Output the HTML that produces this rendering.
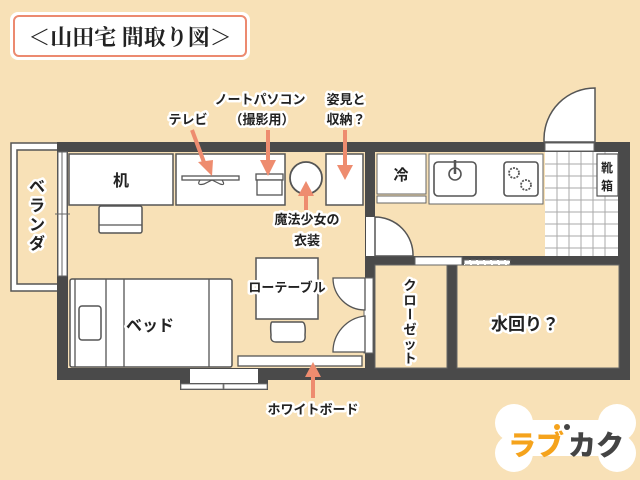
<!DOCTYPE html>
<html><head><meta charset="utf-8"><style>
html,body{margin:0;padding:0;background:#f8e1b7;}
svg{display:block;}
text{font-family:"Liberation Sans","Noto Sans CJK JP",sans-serif;font-weight:bold;fill:#222;}
.lb{paint-order:stroke;stroke:#fff;stroke-width:5px;stroke-linejoin:round;}
</style></head><body>
<svg width="640" height="480" viewBox="0 0 640 480" xmlns="http://www.w3.org/2000/svg">
<rect width="640" height="480" fill="#f8e1b7"/>
<!-- title -->
<rect x="10" y="12" width="240" height="48" rx="8" fill="#fff"/>
<rect x="14" y="16" width="232" height="40" rx="5" fill="#fff" stroke="#ec8a70" stroke-width="2"/>
<text x="130" y="45" font-size="22" text-anchor="middle" style="font-family:'Noto Serif CJK SC','Liberation Serif',serif;font-weight:bold">＜山田宅 間取り図＞</text>

<!-- balcony -->
<rect x="11" y="143" width="48" height="148" fill="#fff" stroke="#555" stroke-width="1.5"/>
<rect x="17" y="150" width="42" height="134" fill="#f8e1b7" stroke="#555" stroke-width="1.5"/>

<!-- floors -->
<rect x="57" y="142" width="573" height="238" fill="#4a4a4a"/>
<rect x="68" y="152" width="297" height="216" fill="#f8e1b7"/>
<rect x="375" y="152" width="170" height="104" fill="#f8e1b7"/>
<rect x="375" y="265" width="72" height="103" fill="#f8e1b7" stroke="#666" stroke-width="1"/>
<rect x="457" y="265" width="162" height="103" fill="#f8e1b7" stroke="#666" stroke-width="1"/>
<!-- genkan tile -->
<rect x="545" y="152" width="73" height="104" fill="#fff"/>
<g stroke="#aaa" stroke-width="1">
<path d="M557 152V256M569 152V256M581 152V256M593 152V256M605 152V256M545 164H618M545 176H618M545 188H618M545 200H618M545 212H618M545 224H618M545 236H618M545 248H618"/>
</g>
<rect x="597" y="154" width="21" height="42" fill="#fff" stroke="#555" stroke-width="1.2"/>
<text x="607" y="172" font-size="12" text-anchor="middle">靴</text>
<text x="607" y="190" font-size="12" text-anchor="middle">箱</text>
<!-- entrance door -->
<rect x="544" y="142" width="51" height="10" fill="#4a4a4a"/>
<rect x="545" y="143" width="49" height="8" fill="#fff" stroke="#666" stroke-width="1"/>
<path d="M595 142 V88 A51 51 0 0 0 544 139 V142 Z" fill="#fff" stroke="#555" stroke-width="1.5"/>

<!-- left window -->
<rect x="58" y="152" width="9" height="124" fill="#fff" stroke="#666" stroke-width="1"/>
<path d="M62 152V276M55 214H70" stroke="#666" stroke-width="1"/>

<!-- kitchen -->
<rect x="377" y="154" width="49" height="40" fill="#fff" stroke="#666" stroke-width="1"/>
<rect x="377" y="196" width="49" height="7" fill="#fff" stroke="#666" stroke-width="1"/>
<text x="401" y="180" font-size="15" text-anchor="middle">冷</text>
<rect x="429" y="154" width="114" height="50" fill="#fff" stroke="#666" stroke-width="1"/>
<rect x="434" y="162" width="42" height="34" rx="4" fill="#fff" stroke="#555" stroke-width="1.6"/>
<circle cx="455" cy="174" r="6" fill="none" stroke="#555" stroke-width="1.6"/>
<path d="M455 160V174" stroke="#555" stroke-width="2.5"/>
<rect x="504" y="162" width="34" height="34" rx="3" fill="#fff" stroke="#555" stroke-width="1.6"/>
<circle cx="514" cy="173" r="5" fill="none" stroke="#555" stroke-width="1.8" stroke-dasharray="2,1.2"/>
<circle cx="526" cy="185" r="5" fill="none" stroke="#555" stroke-width="1.8" stroke-dasharray="2,1.2"/>
<!-- kitchen door -->
<rect x="366" y="217" width="9" height="39" fill="#fff"/>
<path d="M375 217 A38 38 0 0 1 413 256 H375 Z" fill="#fff" stroke="#555" stroke-width="1.5"/>
<!-- horizontal wall openings -->
<rect x="415" y="257" width="47" height="8" fill="#fff" stroke="#666" stroke-width="1"/>
<rect x="464" y="260" width="46" height="5" fill="#fff" stroke="#666" stroke-width="1" stroke-dasharray="5,2"/>
<text x="525" y="330" font-size="17" text-anchor="middle" class="lb">水回り？</text>
<g font-size="13" text-anchor="middle">
<text x="410" y="290" class="lb">ク</text><text x="410" y="305" class="lb">ロ</text><text x="410" y="319" class="lb" transform="rotate(90 410 314)">ー</text><text x="410" y="334" class="lb">ゼ</text><text x="410" y="349" class="lb">ッ</text><text x="410" y="363" class="lb">ト</text>
</g>

<!-- closet double doors -->
<rect x="364" y="278" width="9" height="75" fill="#fff" stroke="#666" stroke-width="1"/>
<path d="M365 278 H333 A32 32 0 0 0 365 310 Z" fill="#fff" stroke="#555" stroke-width="1.3"/>
<path d="M365 352 H333 A36 36 0 0 1 365 316 Z" fill="#fff" stroke="#555" stroke-width="1.3"/>

<!-- desk -->
<rect x="69" y="154" width="104" height="51" fill="#fff" stroke="#555" stroke-width="1.5"/>
<text x="121" y="186" font-size="16" text-anchor="middle">机</text>
<rect x="99" y="206" width="43" height="27" rx="2" fill="#fff" stroke="#555" stroke-width="1.5"/>
<path d="M99 225H142" stroke="#555" stroke-width="1.2"/>
<!-- tv board -->
<rect x="176" y="154" width="109" height="51" fill="#fff" stroke="#555" stroke-width="1.5"/>
<rect x="182" y="176" width="57" height="4" fill="#fff" stroke="#555" stroke-width="1.3"/>
<path d="M200 180 Q196 186 204 184 L212 180 L220 184 Q226 186 222 180" fill="none" stroke="#555" stroke-width="1.2"/>
<rect x="256" y="174" width="27" height="6" fill="#fff" stroke="#555" stroke-width="1.3"/>
<rect x="257" y="180" width="25" height="15" fill="#fff" stroke="#555" stroke-width="1.3"/>
<circle cx="306" cy="178" r="16" fill="#fff" stroke="#555" stroke-width="1.8"/>
<rect x="326" y="154" width="37" height="51" fill="#fff" stroke="#555" stroke-width="1.5"/>

<!-- bed -->
<rect x="70" y="279" width="162" height="88" rx="2" fill="#fff" stroke="#555" stroke-width="1.5"/>
<path d="M75 279V367M106 279V367M124 279V367M209 279V367" stroke="#555" stroke-width="1.3"/>
<rect x="79" y="306" width="22" height="34" rx="3" fill="#fff" stroke="#555" stroke-width="1.5"/>
<text x="150" y="331" font-size="16" text-anchor="middle" class="lb">ベッド</text>
<!-- low table -->
<rect x="256" y="258" width="62" height="61" fill="#fff" stroke="#555" stroke-width="1.5"/>
<path d="M272 322 H302 Q306 322 305 335 Q306 342 300 342 H276 Q270 342 271 335 Q270 322 272 322 Z" fill="#fff" stroke="#555" stroke-width="1.5"/>
<text x="287" y="292" font-size="13" text-anchor="middle" class="lb">ローテーブル</text>
<!-- whiteboard -->
<rect x="238" y="356" width="124" height="10" fill="#fff" stroke="#555" stroke-width="1.3"/>
<!-- bottom window -->
<rect x="180" y="368" width="88" height="22" fill="#4a4a4a"/>
<rect x="190" y="369" width="68" height="14" fill="#fff"/>
<rect x="181" y="384" width="42" height="5" fill="#fff" stroke="#777" stroke-width="0.8"/>
<rect x="224" y="384" width="43" height="5" fill="#fff" stroke="#777" stroke-width="0.8"/>

<!-- arrows -->
<g stroke="#ee8c6f" stroke-width="4" fill="#ee8c6f">
<path d="M192 130 L205 165" fill="none"/><path d="M198 162 L213 160 L212 176 Z" stroke="none"/>
<path d="M268 130 V160" fill="none"/><path d="M260 160 H276 L268 176 Z" stroke="none"/>
<path d="M345 130 V165" fill="none"/><path d="M337 165 H353 L345 180 Z" stroke="none"/>
<path d="M306 210 V195" fill="none"/><path d="M298 196 H314 L306 181 Z" stroke="none"/>
<path d="M313 398 V376" fill="none"/><path d="M305 377 H321 L313 362 Z" stroke="none"/>
</g>

<!-- labels -->
<g font-size="13" text-anchor="middle">
<text x="188" y="124" class="lb">テレビ</text>
<text x="260" y="104" class="lb">ノートパソコン</text>
<text x="262" y="124" class="lb">（撮影用）</text>
<text x="346" y="104" class="lb">姿見と</text>
<text x="346" y="124" class="lb">収納？</text>
<text x="307" y="224" class="lb">魔法少女の</text>
<text x="307" y="245" class="lb">衣装</text>
<text x="313" y="414" class="lb">ホワイトボード</text>
</g>
<g font-size="16" text-anchor="middle">
<text x="37" y="192" class="lb">ベ</text><text x="37" y="211" class="lb">ラ</text><text x="37" y="230" class="lb">ン</text><text x="37" y="249" class="lb">ダ</text>
</g>

<!-- logo -->
<g fill="#fff">
<circle cx="514" cy="423" r="19"/><circle cx="514" cy="453" r="19"/>
<circle cx="617" cy="423" r="19"/><circle cx="617" cy="453" r="19"/>
<rect x="514" y="420" width="103" height="36"/>
</g>
<text x="508" y="455" font-size="28" fill="#f5a31c" style="fill:#f5a31c;font-weight:900">ラブ</text>
<text x="568" y="455" font-size="28" style="fill:#444;font-weight:900">カク</text>
<circle cx="557" cy="427" r="3" fill="#f5a31c"/><circle cx="567" cy="427" r="3" fill="#444"/>
</svg>
</body></html>
